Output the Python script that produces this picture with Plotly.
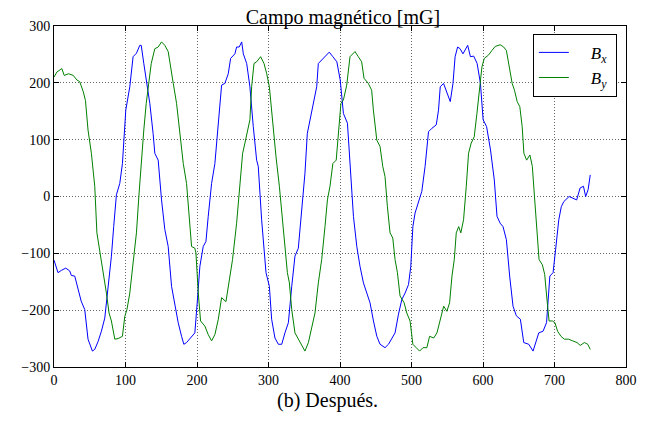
import plotly.graph_objects as go

# Bx (blue) samples
bx_x = [0, 5.6, 10.3, 16.4, 22, 24.3, 29, 33.6, 38, 43, 47.6, 53.7, 57, 61.7, 66.3, 71, 75.6, 80.3, 83.5, 87.3,
        92, 95.7, 100.4, 103.6, 106, 110.6, 115.3, 120, 122, 125.6, 129, 134, 138.6, 141, 145.7, 150.4, 155, 159.7,
        164.4, 169, 173.7, 178.4, 181.6, 185.4, 190, 194.7, 197, 200.3, 204, 208.7, 212.5, 215.7, 220.4, 225, 229.8,
        234.4, 239, 243.7, 247, 253, 255.4, 259, 262.5, 264.8, 269.5, 274, 278.7, 283.4, 285.7, 290.4, 296.5, 301.2,
        304.4, 309, 313.8, 318.5, 323, 327.8, 332.5, 337, 341.7, 346.4, 351, 354.3, 358, 362.7, 367.4, 369.7, 374.4,
        379, 385, 390, 395.6, 400.3, 404.8, 410.4, 414, 416.5, 418.8, 423.5, 428, 432.8, 437.5, 442, 446.8, 451.5,
        456, 463, 467.8, 472.4, 477, 481.8, 486.5, 491, 495.8, 499, 501.9, 505, 509.8, 514.4, 519, 523.8, 528.5,
        534.6, 537.8, 540.2, 544.8, 549.5, 554.2, 558, 561, 564.5, 568, 572, 575, 578.6, 582.4, 587, 591.8, 596.4,
        600.2, 605, 610.5, 615.8, 619.6, 624, 628, 632.7, 637.3, 642, 646.7, 652.3, 657, 664, 670, 673.4, 678, 684,
        688.9, 693.5, 698, 701.5, 706, 709.5, 713, 720.4, 725, 731, 735.8, 740.5, 743.6, 747, 750]
bx_y = [-112, -134, -130, -126, -131, -139, -140, -164, -184, -199, -251, -272, -269, -255, -237, -214, -164, -105, -53, 3,
        23, 58, 152, 175, 193, 246, 252, 266, 266, 234, 208, 164, 111, 76, 64, -6, -58, -88,
        -158, -193, -222, -246, -260, -257, -251, -243, -240, -187, -123, -88, -79, -35, 23, 58, 123,
        196, 199, 216, 243, 251, 263, 263, 272, 251, 234, 193, 123, 64, 53, -41, -134, -158,
        -216, -249, -260, -260, -240, -222, -158, -105, -91, -29, 41, 111, 136, 165, 193, 234, 240,
        246, 254, 246, 237, 205, 146, 129, 64, 6, -35, -88, -123, -152, -172, -187, -219, -246,
        -260, -266, -260, -251, -240, -207, -181, -170, -155, -123, -53, -29, -9, 9, 53, 114, 120,
        126, 152, 193, 199, 181, 167, 199, 246, 263, 260, 251, 257, 266, 246, 247, 234, 199,
        135, 123, 82, 29, -35, -47, -53, -76, -140, -193, -210, -216, -257, -260, -272, -260, -240, -237,
        -222, -140, -134, -94, -41, -18, -9, 0, -3, -6, 15, 18, 0, 12, 38]

# By (green) samples
by_x = [0, 4, 8.6, 11, 14.3, 20.4, 27, 32, 36, 41, 44, 47.6, 52.3, 57, 60, 64, 68.6, 73.3, 77, 80.3, 85, 89.6, 95.7,
        99, 102, 106, 110.6, 115.3, 119, 122.3, 125.6, 129, 133, 136, 141, 145.7, 150.4, 155, 159.7, 163.4, 166.8,
        171.4, 176, 180.8, 185.4, 189, 192.4, 197, 198.5, 201.8, 205, 211, 215.7, 220.4, 225, 229.8, 234.4, 240.5,
        245, 249.7, 255.4, 260, 263.8, 267, 270.3, 274, 276.4, 279.7, 283.4, 289, 293.7, 297.5, 301.2, 305.8, 310.5,
        315.2, 319.9, 323, 326.4, 329.2, 332.5, 337, 341.7, 346.4, 351, 355.8, 360.5, 365, 369.7, 374.4, 379, 382.4,
        386, 390, 394.7, 398, 401.3, 404.8, 409.4, 414, 418.8, 421, 425.6, 430.3, 433.6, 439.6, 444.3, 446.7, 451.5,
        456, 459.8, 463, 466.3, 470, 473.8, 477, 480.3, 484, 489.7, 493.4, 498, 501.9, 506.6, 511.3, 516, 521.5,
        525.3, 531, 535.6, 540.2, 545, 549.5, 553.3, 556.6, 559.8, 562.6, 566, 569, 572.8, 576.6, 579.8, 583.5,
        587.7, 591.5, 595.2, 598.5, 601.8, 607.8, 612.5, 617, 624, 628.9, 632.7, 636, 640.8, 644, 647.8, 651.5,
        654.8, 657.2, 661, 665.6, 669, 672, 675, 678.4, 683, 686.3, 689, 692.4, 697, 700.6, 704.3, 709, 713.7,
        719.5, 725.5, 731.5, 736, 741.8, 746.5, 750]
by_y = [210, 219, 223, 225, 213, 216, 213, 205, 202, 184, 169, 117, 76, 18, -64, -94, -129, -170, -205, -219, -251, -250, -246,
        -211, -199, -170, -117, -64, 6, 70, 117, 164, 205, 234, 260, 263, 272, 266, 255, 222, 199,
        164, 117, 58, 23, -35, -88, -91, -99, -170, -219, -228, -243, -254, -243, -216, -178, -185,
        -152, -111, -47, 18, 76, 94, 111, 135, 193, 234, 237, 246, 234, 216, 193, 129, 70,
        18, -47, -99, -134, -152, -199, -240, -251, -263, -272, -257, -228, -205, -152, -111, -53, -6,
        18, 58, 64, 117, 164, 170, 196, 246, 252, 255, 246, 237, 208, 199, 187, 152, 99,
        88, 53, 35, -18, -64, -73, -111, -134, -175, -187, -205, -219, -260, -266, -272, -266, -266,
        -246, -249, -240, -219, -193, -202, -187, -140, -111, -64, -53, -64, -41, 18, 76, 94,
        105, 146, 193, 228, 243, 249, 257, 264, 267, 263, 257, 234, 199, 187, 167, 158,
        123, 76, 64, 73, 53, 0, -53, -111, -120, -137, -175, -219, -219, -222, -237, -246, -251,
        -251, -254, -257, -262, -257, -260, -269]

x_ticks = [0, 100, 200, 300, 400, 500, 600, 700, 800]
y_ticks = [-300, -200, -100, 0, 100, 200, 300]

serif = "'Liberation Serif', 'DejaVu Serif', serif"
pad = "&nbsp;&nbsp;&nbsp;&nbsp;"

fig = go.Figure()
fig.add_trace(go.Scatter(x=bx_x, y=bx_y, mode="lines", name=pad + "<i>B</i><sub><i>x</i></sub>&nbsp;",
                         line=dict(color="#0000ff", width=1)))
fig.add_trace(go.Scatter(x=by_x, y=by_y, mode="lines", name=pad + "<i>B</i><sub><i>y</i></sub>&nbsp;",
                         line=dict(color="#008000", width=1)))

axis_common = dict(showline=True, linecolor="black", linewidth=1, mirror="allticks",
                   ticks="inside", ticklen=5, tickcolor="black", zeroline=False,
                   showgrid=True, gridcolor="#666666", griddash="1px,2px", gridwidth=1,
                   tickfont=dict(family=serif, size=14, color="black"))

fig.update_xaxes(range=[0, 800], tickvals=x_ticks, **axis_common)
fig.update_yaxes(range=[-300, 300], tickvals=y_ticks, **axis_common)

# the page adds an 8px body margin, so the figure is 8px smaller and left/top margins shifted
fig.update_layout(
    width=641, height=413,
    margin=dict(l=46, r=23, t=18, b=54, autoexpand=False),
    paper_bgcolor="white", plot_bgcolor="white",
    title=dict(text="Campo magnético [mG]", x=0.5226, xanchor="center", y=0.961, yanchor="bottom",
               font=dict(family=serif, size=20, color="black")),
    legend=dict(x=0.984, y=0.977, xanchor="right", yanchor="top",
                bgcolor="white", bordercolor="black", borderwidth=1,
                font=dict(family=serif, size=17, color="black"), tracegroupgap=0),
    showlegend=True,
    annotations=[dict(text="(b) Después.", xref="paper", yref="paper", x=0.479, y=-0.097,
                      xanchor="center", yanchor="middle", showarrow=False,
                      font=dict(family=serif, size=20, color="black"))],
)

fig.write_html("out.html")
